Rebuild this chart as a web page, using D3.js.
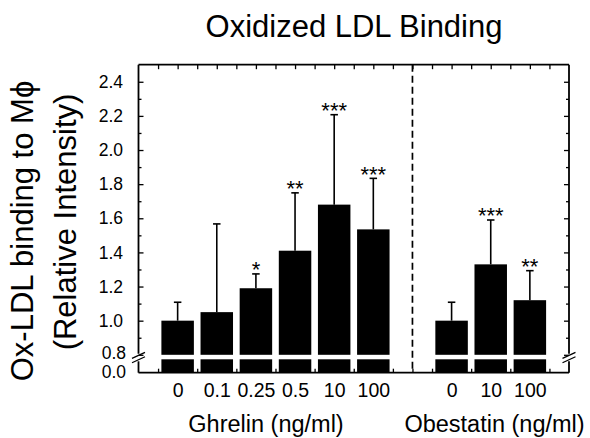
<!DOCTYPE html>
<html>
<head>
<meta charset="utf-8">
<script src="https://cdn.jsdelivr.net/npm/d3@7"></script>
<style>
  html, body { margin: 0; padding: 0; background: #fff; }
  svg { display: block; font-family: "Liberation Sans", Arial, sans-serif; }
</style>
</head>
<body>
<svg id="chart" width="590" height="438"></svg>
<script>
// ---- data ----
const ghrelinDoses = ["0", "0.1", "0.25", "0.5", "10", "100"];
const ghrelinMeans = [1.00, 1.05, 1.19, 1.41, 1.68, 1.535];
const ghrelinErr   = [0.108, 0.517, 0.084, 0.339, 0.527, 0.299];
const ghrelinSig   = ["", "", "*", "**", "***", "***"];

const obestatinDoses = ["0", "10", "100"];
const obestatinMeans = [1.00, 1.33, 1.12];
const obestatinErr   = [0.108, 0.26, 0.173];
const obestatinSig   = ["", "***", "**"];

const yTickValues = [0.8, 1.0, 1.2, 1.4, 1.6, 1.8, 2.0, 2.2, 2.4];
const yLowTicks = [0.0];

const titleText = "Oxidized LDL Binding";
const yLabel1 = "Ox-LDL binding to M\u03d5";
const yLabel2 = "(Relative Intensity)";
const xLabelGhrelin = "Ghrelin (ng/ml)";
const xLabelObestatin = "Obestatin (ng/ml)";

// ---- layout ----
const L = 138.5, R = 569, T = 64.7, B = 372.7;
const breakTop = 354.8, breakBot = 359.3;

const bars = [];
ghrelinDoses.forEach((d, i) => bars.push({pos: i + 1, label: d, mean: ghrelinMeans[i], err: ghrelinErr[i], sig: ghrelinSig[i]}));
obestatinDoses.forEach((d, i) => bars.push({pos: i + 8, label: d, mean: obestatinMeans[i], err: obestatinErr[i], sig: obestatinSig[i]}));

const x = d3.scaleLinear().domain([0, 11]).range([L, R]);
const yU = d3.scaleLinear().domain([0.8, 2.5]).range([breakTop, T]);
const yL = d3.scaleLinear().domain([0, 0.8]).range([B, breakBot]);
const barW = x(0.83) - x(0);

const svg = d3.select("#chart");
const FONT = "Liberation Sans, Arial, sans-serif";

// bars (upper and lower segments)
const g = svg.append("g");
g.selectAll("rect.up").data(bars).join("rect")
  .attr("x", d => x(d.pos) - barW / 2)
  .attr("width", barW)
  .attr("y", d => yU(d.mean))
  .attr("height", d => yU(0.8) - yU(d.mean))
  .attr("fill", "#000");
g.selectAll("rect.low").data(bars).join("rect")
  .attr("x", d => x(d.pos) - barW / 2)
  .attr("width", barW)
  .attr("y", yL(0.8))
  .attr("height", yL(0) - yL(0.8))
  .attr("fill", "#000");

// error bars
const capW = 7.5;
g.selectAll("line.err").data(bars).join("line")
  .attr("x1", d => x(d.pos)).attr("x2", d => x(d.pos))
  .attr("y1", d => yU(d.mean)).attr("y2", d => yU(d.mean + d.err))
  .attr("stroke", "#000").attr("stroke-width", 1.6);
g.selectAll("line.cap").data(bars).join("line")
  .attr("x1", d => x(d.pos) - capW / 2).attr("x2", d => x(d.pos) + capW / 2)
  .attr("y1", d => yU(d.mean + d.err)).attr("y2", d => yU(d.mean + d.err))
  .attr("stroke", "#000").attr("stroke-width", 1.6);

// significance stars
g.selectAll("text.sig").data(bars.filter(d => d.sig)).join("text")
  .attr("x", d => x(d.pos))
  .attr("y", d => yU(d.mean + d.err) + 3.5)
  .attr("text-anchor", "middle")
  .attr("font-size", 22)
  .text(d => d.sig);

// divider dashed line
svg.append("line")
  .attr("x1", x(7)).attr("x2", x(7))
  .attr("y1", T).attr("y2", B)
  .attr("stroke", "#000").attr("stroke-width", 1.7)
  .attr("stroke-dasharray", "7,4");

// axes via d3 axis generators (inward ticks)
const yMinor = d3.range(0.9, 2.5, 0.2).map(v => +v.toFixed(1));
const axStyle = sel => {
  sel.select(".domain").remove();
  sel.selectAll(".tick line").attr("stroke", "#000").attr("stroke-width", 1.3);
};

// left axis major
svg.append("g").attr("transform", `translate(${L},0)`)
  .call(d3.axisLeft(yU).tickValues(yTickValues).tickFormat(d3.format(".1f")).tickSizeInner(-5).tickSizeOuter(0).tickPadding(15.5))
  .call(axStyle)
  .call(s => s.selectAll("text").attr("font-size", 17.5).attr("fill", "#000").attr("font-family", FONT))
  .call(s => s.selectAll(".tick").filter(d => d === 0.8).select("text").attr("dx", 3).attr("dy", "0.2em"));
// left minor
svg.append("g").attr("transform", `translate(${L},0)`)
  .call(d3.axisLeft(yU).tickValues(yMinor).tickFormat("").tickSizeInner(-3).tickSizeOuter(0))
  .call(axStyle);
// left lower segment
svg.append("g").attr("transform", `translate(${L},0)`)
  .call(d3.axisLeft(yL).tickValues(yLowTicks).tickFormat(d3.format(".1f")).tickSizeInner(0).tickSizeOuter(0).tickPadding(12.5))
  .call(axStyle)
  .call(s => s.selectAll("text").attr("font-size", 17.5).attr("fill", "#000").attr("font-family", FONT).attr("dy", "0.3em"));

// right axis ticks
svg.append("g").attr("transform", `translate(${R},0)`)
  .call(d3.axisRight(yU).tickValues(yTickValues).tickFormat("").tickSizeInner(-5).tickSizeOuter(0))
  .call(axStyle);
svg.append("g").attr("transform", `translate(${R},0)`)
  .call(d3.axisRight(yU).tickValues(yMinor).tickFormat("").tickSizeInner(-3).tickSizeOuter(0))
  .call(axStyle);

// top & bottom ticks every 0.5
const xTickAll = d3.range(0.5, 11, 0.5);
svg.append("g").attr("transform", `translate(0,${T})`)
  .call(d3.axisTop(x).tickValues(xTickAll).tickFormat("").tickSizeInner(-4.5).tickSizeOuter(0))
  .call(axStyle);
svg.append("g").attr("transform", `translate(0,${B})`)
  .call(d3.axisBottom(x).tickValues(xTickAll).tickFormat("").tickSizeInner(-4).tickSizeOuter(0))
  .call(axStyle);

// x tick labels
svg.append("g").attr("transform", `translate(0,${B})`)
  .call(d3.axisBottom(x).tickValues(bars.map(d => d.pos)).tickFormat((d, i) => bars[i].label).tickSize(0).tickPadding(10))
  .call(s => s.select(".domain").remove())
  .call(s => s.selectAll("text").attr("font-size", 19.5).attr("fill", "#000").attr("font-family", FONT));

// frame: left, right (with breaks), top, bottom
const frame = svg.append("g").attr("stroke", "#000").attr("stroke-width", 1.8).attr("fill", "none");
frame.append("line").attr("x1", L).attr("x2", R).attr("y1", T).attr("y2", T);
frame.append("line").attr("x1", L).attr("x2", R).attr("y1", B).attr("y2", B);
frame.append("line").attr("x1", L).attr("x2", L).attr("y1", T).attr("y2", breakTop - 1);
frame.append("line").attr("x1", L).attr("x2", L).attr("y1", breakBot + 2).attr("y2", B);
frame.append("line").attr("x1", R).attr("x2", R).attr("y1", T).attr("y2", breakTop - 1);
frame.append("line").attr("x1", R).attr("x2", R).attr("y1", breakBot + 2).attr("y2", B);

// break marks
function breakMarks(cx) {
  const cy = (breakTop + breakBot) / 2 + 0.5;
  [-2.2, 2.2].forEach(off => {
    svg.append("line")
      .attr("x1", cx - 6.5).attr("y1", cy + off + 3)
      .attr("x2", cx + 6.5).attr("y2", cy + off - 3)
      .attr("stroke", "#000").attr("stroke-width", 1.3);
  });
}
breakMarks(L);
breakMarks(R);

// titles
svg.append("text").attr("x", 354).attr("y", 37).attr("text-anchor", "middle")
  .attr("font-size", 31).text(titleText);

svg.append("text").attr("transform", "translate(33,231) rotate(-90)")
  .attr("text-anchor", "middle").attr("font-size", 31).text(yLabel1);
svg.append("text").attr("transform", "translate(76,222) rotate(-90)")
  .attr("text-anchor", "middle").attr("font-size", 31).text(yLabel2);

svg.append("text").attr("x", 266).attr("y", 432).attr("text-anchor", "middle")
  .attr("font-size", 23.5).text(xLabelGhrelin);
svg.append("text").attr("x", 494.5).attr("y", 432).attr("text-anchor", "middle")
  .attr("font-size", 23.5).text(xLabelObestatin);
</script>
</body>
</html>
